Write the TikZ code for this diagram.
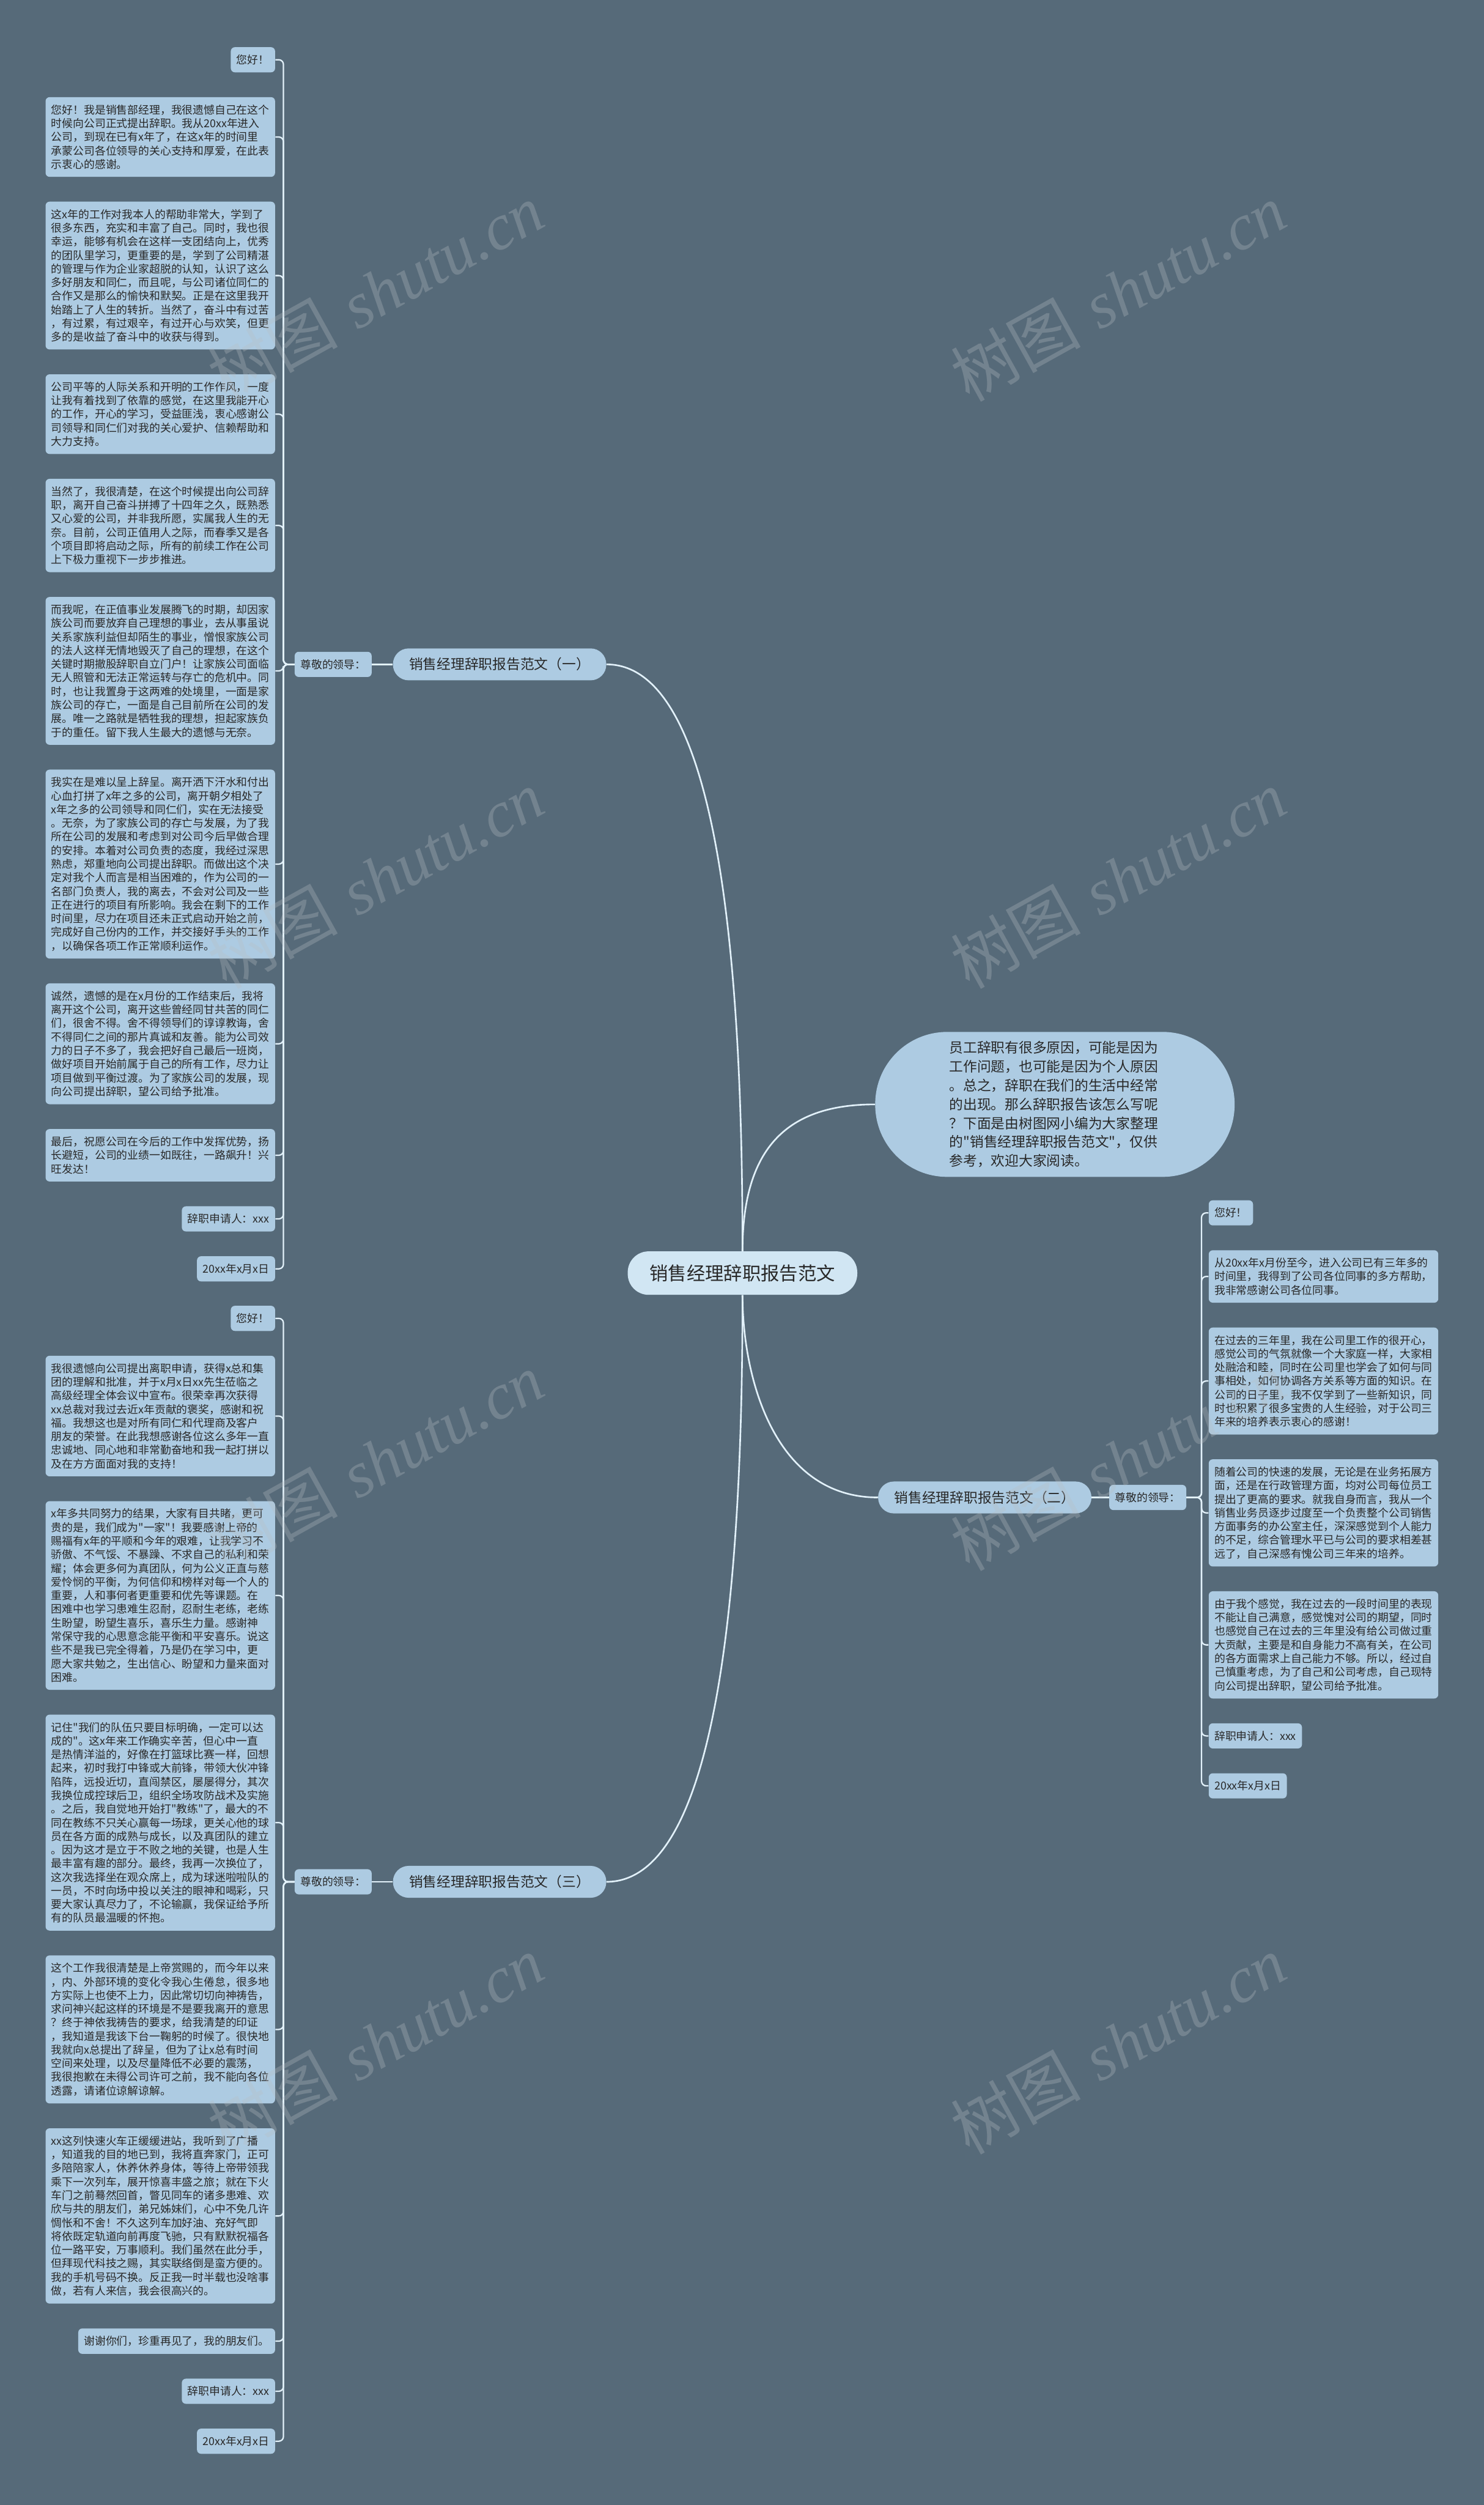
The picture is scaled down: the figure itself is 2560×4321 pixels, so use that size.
\documentclass[tikz,border=0pt]{standalone}
\usepackage{fontspec}
\usepackage{xcolor}
\usepackage{tikz}
\usetikzlibrary{positioning}
\newfontfamily\cjk{Noto Sans CJK SC}
\newfontfamily\wmserif{Liberation Serif}
\definecolor{bgc}{RGB}{86,106,121}
\definecolor{leafc}{RGB}{173,203,226}
\definecolor{rootc}{RGB}{209,230,243}
\definecolor{linec}{RGB}{226,241,250}
\definecolor{inkc}{RGB}{40,40,40}
\definecolor{wmc}{RGB}{185,190,195}
\tikzset{
  leaf/.style ={rectangle, rounded corners=3.5pt, fill=leafc, text=inkc, align=left, inner xsep=5pt, inner ysep=6.5pt, font=\cjk\fontsize{9.4pt}{11.75pt}\selectfont},
  para/.style ={leaf, text width=188pt},
  sec/.style  ={rectangle, rounded corners=13.5pt, fill=leafc, text=inkc, inner xsep=14pt, minimum height=27.5pt, font=\cjk\fontsize{12pt}{14pt}\selectfont},
  hub/.style  ={rectangle, rounded corners=18pt, fill=rootc, text=inkc, inner xsep=19pt, minimum height=37.5pt, font=\cjk\fontsize{16pt}{19pt}\selectfont},
  intro/.style={rectangle, rounded corners=62pt, fill=leafc, text=inkc, align=left, text width=182pt, inner xsep=64pt, minimum height=125pt, font=\cjk\fontsize{12pt}{16.25pt}\selectfont},
  stem/.style ={draw=linec, line width=1.4pt},
  twig/.style ={draw=linec, line width=1.2pt, rounded corners=4pt},
  wm/.style   ={text=wmc, text opacity=0.3, rotate=29, font=\fontsize{56pt}{60pt}\selectfont},
}

\begin{document}
\begin{tikzpicture}[x=0.5pt, y=-0.5pt, node distance=21pt]
  \useasboundingbox (0,0) rectangle (2560,4321);
  \fill[bgc] (0,0) rectangle (2560,4321);

  \node[hub] (root) at (1281,2196) {销售经理辞职报告范文};
  \node[intro] (intro) at (1820,1905) {员工辞职有很多原因，可能是因为\\工作问题，也可能是因为个人原因\\。总之，辞职在我们的生活中经常\\的出现。那么辞职报告该怎么写呢\\？下面是由树图网小编为大家整理\\的"销售经理辞职报告范文"，仅供\\参考，欢迎大家阅读。};
  \node[sec] (s1) at (862,1146) {销售经理辞职报告范文（一）};
  \node[sec] (s2) at (1699,2583) {销售经理辞职报告范文（二）};
  \node[sec] (s3) at (862,3246) {销售经理辞职报告范文（三）};
  \node[leaf, left=18pt of s1] (g1) {尊敬的领导：};
  \node[leaf, right=15pt of s2] (g2) {尊敬的领导：};
  \node[leaf, left=18pt of s3] (g3) {尊敬的领导：};

  \node[leaf, anchor=north east] (a1) at (475,81) {您好！};
  \node[para, below=of a1.south east, anchor=north east] (a2) {您好！我是销售部经理，我很遗憾自己在这个\\时候向公司正式提出辞职。我从20xx年进入\\公司，到现在已有x年了，在这x年的时间里\\承蒙公司各位领导的关心支持和厚爱，在此表\\示衷心的感谢。};
  \node[para, below=of a2.south east, anchor=north east] (a3) {这x年的工作对我本人的帮助非常大，学到了\\很多东西，充实和丰富了自己。同时，我也很\\幸运，能够有机会在这样一支团结向上，优秀\\的团队里学习，更重要的是，学到了公司精湛\\的管理与作为企业家超脱的认知，认识了这么\\多好朋友和同仁，而且呢，与公司诸位同仁的\\合作又是那么的愉快和默契。正是在这里我开\\始踏上了人生的转折。当然了，奋斗中有过苦\\，有过累，有过艰辛，有过开心与欢笑，但更\\多的是收益了奋斗中的收获与得到。};
  \node[para, below=of a3.south east, anchor=north east] (a4) {公司平等的人际关系和开明的工作作风，一度\\让我有着找到了依靠的感觉，在这里我能开心\\的工作，开心的学习，受益匪浅，衷心感谢公\\司领导和同仁们对我的关心爱护、信赖帮助和\\大力支持。};
  \node[para, below=of a4.south east, anchor=north east] (a5) {当然了，我很清楚，在这个时候提出向公司辞\\职，离开自己奋斗拼搏了十四年之久，既熟悉\\又心爱的公司，并非我所愿，实属我人生的无\\奈。目前，公司正值用人之际，而春季又是各\\个项目即将启动之际，所有的前续工作在公司\\上下极力重视下一步步推进。};
  \node[para, below=of a5.south east, anchor=north east] (a6) {而我呢，在正值事业发展腾飞的时期，却因家\\族公司而要放弃自己理想的事业，去从事虽说\\关系家族利益但却陌生的事业，憎恨家族公司\\的法人这样无情地毁灭了自己的理想，在这个\\关键时期撤股辞职自立门户！让家族公司面临\\无人照管和无法正常运转与存亡的危机中。同\\时，也让我置身于这两难的处境里，一面是家\\族公司的存亡，一面是自己目前所在公司的发\\展。唯一之路就是牺牲我的理想，担起家族负\\于的重任。留下我人生最大的遗憾与无奈。};
  \node[para, below=of a6.south east, anchor=north east] (a7) {我实在是难以呈上辞呈。离开洒下汗水和付出\\心血打拼了x年之多的公司，离开朝夕相处了\\x年之多的公司领导和同仁们，实在无法接受\\。无奈，为了家族公司的存亡与发展，为了我\\所在公司的发展和考虑到对公司今后早做合理\\的安排。本着对公司负责的态度，我经过深思\\熟虑，郑重地向公司提出辞职。而做出这个决\\定对我个人而言是相当困难的，作为公司的一\\名部门负责人，我的离去，不会对公司及一些\\正在进行的项目有所影响。我会在剩下的工作\\时间里，尽力在项目还未正式启动开始之前，\\完成好自己份内的工作，并交接好手头的工作\\，以确保各项工作正常顺利运作。};
  \node[para, below=of a7.south east, anchor=north east] (a8) {诚然，遗憾的是在x月份的工作结束后，我将\\离开这个公司，离开这些曾经同甘共苦的同仁\\们，很舍不得。舍不得领导们的谆谆教诲，舍\\不得同仁之间的那片真诚和友善。能为公司效\\力的日子不多了，我会把好自己最后一班岗，\\做好项目开始前属于自己的所有工作，尽力让\\项目做到平衡过渡。为了家族公司的发展，现\\向公司提出辞职，望公司给予批准。};
  \node[para, below=of a8.south east, anchor=north east] (a9) {最后，祝愿公司在今后的工作中发挥优势，扬\\长避短，公司的业绩一如既往，一路飙升！兴\\旺发达！};
  \node[leaf, below=of a9.south east, anchor=north east] (a10) {辞职申请人：xxx};
  \node[leaf, below=of a10.south east, anchor=north east] (a11) {20xx年x月x日};

  \node[leaf, anchor=north west] (r1) at (2085,2070) {您好！};
  \node[para, below=of r1.south west, anchor=north west] (r2) {从20xx年x月份至今，进入公司已有三年多的\\时间里，我得到了公司各位同事的多方帮助，\\我非常感谢公司各位同事。};
  \node[para, below=of r2.south west, anchor=north west] (r3) {在过去的三年里，我在公司里工作的很开心，\\感觉公司的气氛就像一个大家庭一样，大家相\\处融洽和睦，同时在公司里也学会了如何与同\\事相处，如何协调各方关系等方面的知识。在\\公司的日子里，我不仅学到了一些新知识，同\\时也积累了很多宝贵的人生经验，对于公司三\\年来的培养表示衷心的感谢！};
  \node[para, below=of r3.south west, anchor=north west] (r4) {随着公司的快速的发展，无论是在业务拓展方\\面，还是在行政管理方面，均对公司每位员工\\提出了更高的要求。就我自身而言，我从一个\\销售业务员逐步过度至一个负责整个公司销售\\方面事务的办公室主任，深深感觉到个人能力\\的不足，综合管理水平已与公司的要求相差甚\\远了，自己深感有愧公司三年来的培养。};
  \node[para, below=of r4.south west, anchor=north west] (r5) {由于我个感觉，我在过去的一段时间里的表现\\不能让自己满意，感觉愧对公司的期望，同时\\也感觉自己在过去的三年里没有给公司做过重\\大贡献，主要是和自身能力不高有关，在公司\\的各方面需求上自己能力不够。所以，经过自\\己慎重考虑，为了自己和公司考虑，自己现特\\向公司提出辞职，望公司给予批准。};
  \node[leaf, below=of r5.south west, anchor=north west] (r6) {辞职申请人：xxx};
  \node[leaf, below=of r6.south west, anchor=north west] (r7) {20xx年x月x日};

  \node[leaf, anchor=north east] (c1) at (475,2252) {您好！};
  \node[para, below=of c1.south east, anchor=north east] (c2) {我很遗憾向公司提出离职申请，获得x总和集\\团的理解和批准，并于x月x日xx先生莅临之\\高级经理全体会议中宣布。很荣幸再次获得\\xx总裁对我过去近x年贡献的褒奖，感谢和祝\\福。我想这也是对所有同仁和代理商及客户\\朋友的荣誉。在此我想感谢各位这么多年一直\\忠诚地、同心地和非常勤奋地和我一起打拼以\\及在方方面面对我的支持！};
  \node[para, below=of c2.south east, anchor=north east] (c3) {x年多共同努力的结果，大家有目共睹，更可\\贵的是，我们成为"一家"！我要感谢上帝的\\赐福有x年的平顺和今年的艰难，让我学习不\\骄傲、不气馁、不暴躁、不求自己的私利和荣\\耀；体会更多何为真团队，何为公义正直与慈\\爱怜悯的平衡，为何信仰和榜样对每一个人的\\重要，人和事何者更重要和优先等课题。在\\困难中也学习患难生忍耐，忍耐生老练，老练\\生盼望，盼望生喜乐，喜乐生力量。感谢神\\常保守我的心思意念能平衡和平安喜乐。说这\\些不是我已完全得着，乃是仍在学习中，更\\愿大家共勉之，生出信心、盼望和力量来面对\\困难。};
  \node[para, below=of c3.south east, anchor=north east] (c4) {记住"我们的队伍只要目标明确，一定可以达\\成的"。这x年来工作确实辛苦，但心中一直\\是热情洋溢的，好像在打篮球比赛一样，回想\\起来，初时我打中锋或大前锋，带领大伙冲锋\\陷阵，远投近切，直闯禁区，屡屡得分，其次\\我换位成控球后卫，组织全场攻防战术及实施\\。之后，我自觉地开始打"教练"了，最大的不\\同在教练不只关心赢每一场球，更关心他的球\\员在各方面的成熟与成长，以及真团队的建立\\。因为这才是立于不败之地的关键，也是人生\\最丰富有趣的部分。最终，我再一次换位了，\\这次我选择坐在观众席上，成为球迷啦啦队的\\一员，不时向场中投以关注的眼神和喝彩，只\\要大家认真尽力了，不论输赢，我保证给予所\\有的队员最温暖的怀抱。};
  \node[para, below=of c4.south east, anchor=north east] (c5) {这个工作我很清楚是上帝赏赐的，而今年以来\\，内、外部环境的变化令我心生倦怠，很多地\\方实际上也使不上力，因此常切切向神祷告，\\求问神兴起这样的环境是不是要我离开的意思\\？终于神依我祷告的要求，给我清楚的印证\\，我知道是我该下台一鞠躬的时候了。很快地\\我就向x总提出了辞呈，但为了让x总有时间\\空间来处理，以及尽量降低不必要的震荡，\\我很抱歉在未得公司许可之前，我不能向各位\\透露，请诸位谅解谅解。};
  \node[para, below=of c5.south east, anchor=north east] (c6) {xx这列快速火车正缓缓进站，我听到了广播\\，知道我的目的地已到，我将直奔家门，正可\\多陪陪家人，休养休养身体，等待上帝带领我\\乘下一次列车，展开惊喜丰盛之旅；就在下火\\车门之前蓦然回首，瞥见同车的诸多患难、欢\\欣与共的朋友们，弟兄姊妹们，心中不免几许\\惆怅和不舍！不久这列车加好油、充好气即\\将依既定轨道向前再度飞驰，只有默默祝福各\\位一路平安，万事顺利。我们虽然在此分手，\\但拜现代科技之赐，其实联络倒是蛮方便的。\\我的手机号码不换。反正我一时半载也没啥事\\做，若有人来信，我会很高兴的。};
  \node[leaf, below=of c6.south east, anchor=north east] (c7) {谢谢你们，珍重再见了，我的朋友们。};
  \node[leaf, below=of c7.south east, anchor=north east] (c8) {辞职申请人：xxx};
  \node[leaf, below=of c8.south east, anchor=north east] (c9) {20xx年x月x日};

  \draw[stem] (root.north) .. controls +(0,-460) and +(200,0) .. (s1.east);
  \draw[stem] (root.north) .. controls +(0,-180) and +(-150,0) .. (intro.west);
  \draw[stem] (root.south) .. controls +(0,140) and +(-180,0) .. (s2.west);
  \draw[stem] (root.south) .. controls +(0,460) and +(200,0) .. (s3.east);
  \draw[stem] (s1.west) -- (g1.east);
  \draw[stem] (s2.east) -- (g2.west);
  \draw[stem] (s3.west) -- (g3.east);

  \draw[twig] (g1.west) -- ++(-19,0) |- (a1.east);
  \draw[twig] (g1.west) -- ++(-19,0) |- (a2.east);
  \draw[twig] (g1.west) -- ++(-19,0) |- (a3.east);
  \draw[twig] (g1.west) -- ++(-19,0) |- (a4.east);
  \draw[twig] (g1.west) -- ++(-19,0) |- (a5.east);
  \draw[twig] (g1.west) -- ++(-19,0) |- (a6.east);
  \draw[twig] (g1.west) -- ++(-19,0) |- (a7.east);
  \draw[twig] (g1.west) -- ++(-19,0) |- (a8.east);
  \draw[twig] (g1.west) -- ++(-19,0) |- (a9.east);
  \draw[twig] (g1.west) -- ++(-19,0) |- (a10.east);
  \draw[twig] (g1.west) -- ++(-19,0) |- (a11.east);

  \draw[twig] (g2.east) -- ++(26,0) |- (r1.west);
  \draw[twig] (g2.east) -- ++(26,0) |- (r2.west);
  \draw[twig] (g2.east) -- ++(26,0) |- (r3.west);
  \draw[twig] (g2.east) -- ++(26,0) |- (r4.west);
  \draw[twig] (g2.east) -- ++(26,0) |- (r5.west);
  \draw[twig] (g2.east) -- ++(26,0) |- (r6.west);
  \draw[twig] (g2.east) -- ++(26,0) |- (r7.west);

  \draw[twig] (g3.west) -- ++(-19,0) |- (c1.east);
  \draw[twig] (g3.west) -- ++(-19,0) |- (c2.east);
  \draw[twig] (g3.west) -- ++(-19,0) |- (c3.east);
  \draw[twig] (g3.west) -- ++(-19,0) |- (c4.east);
  \draw[twig] (g3.west) -- ++(-19,0) |- (c5.east);
  \draw[twig] (g3.west) -- ++(-19,0) |- (c6.east);
  \draw[twig] (g3.west) -- ++(-19,0) |- (c7.east);
  \draw[twig] (g3.west) -- ++(-19,0) |- (c8.east);
  \draw[twig] (g3.west) -- ++(-19,0) |- (c9.east);

  \node[wm] (w1) at (648,504) {{\cjk 树图} {\wmserif\itshape shutu.cn}};
  \node[wm] (w2) at (1929,504) {{\cjk 树图} {\wmserif\itshape shutu.cn}};
  \node[wm] (w3) at (648,1516) {{\cjk 树图} {\wmserif\itshape shutu.cn}};
  \node[wm] (w4) at (1929,1516) {{\cjk 树图} {\wmserif\itshape shutu.cn}};
  \node[wm] (w5) at (648,2521) {{\cjk 树图} {\wmserif\itshape shutu.cn}};
  \node[wm] (w6) at (1929,2521) {{\cjk 树图} {\wmserif\itshape shutu.cn}};
  \node[wm] (w7) at (648,3527) {{\cjk 树图} {\wmserif\itshape shutu.cn}};
  \node[wm] (w8) at (1929,3527) {{\cjk 树图} {\wmserif\itshape shutu.cn}};
\end{tikzpicture}
\end{document}
